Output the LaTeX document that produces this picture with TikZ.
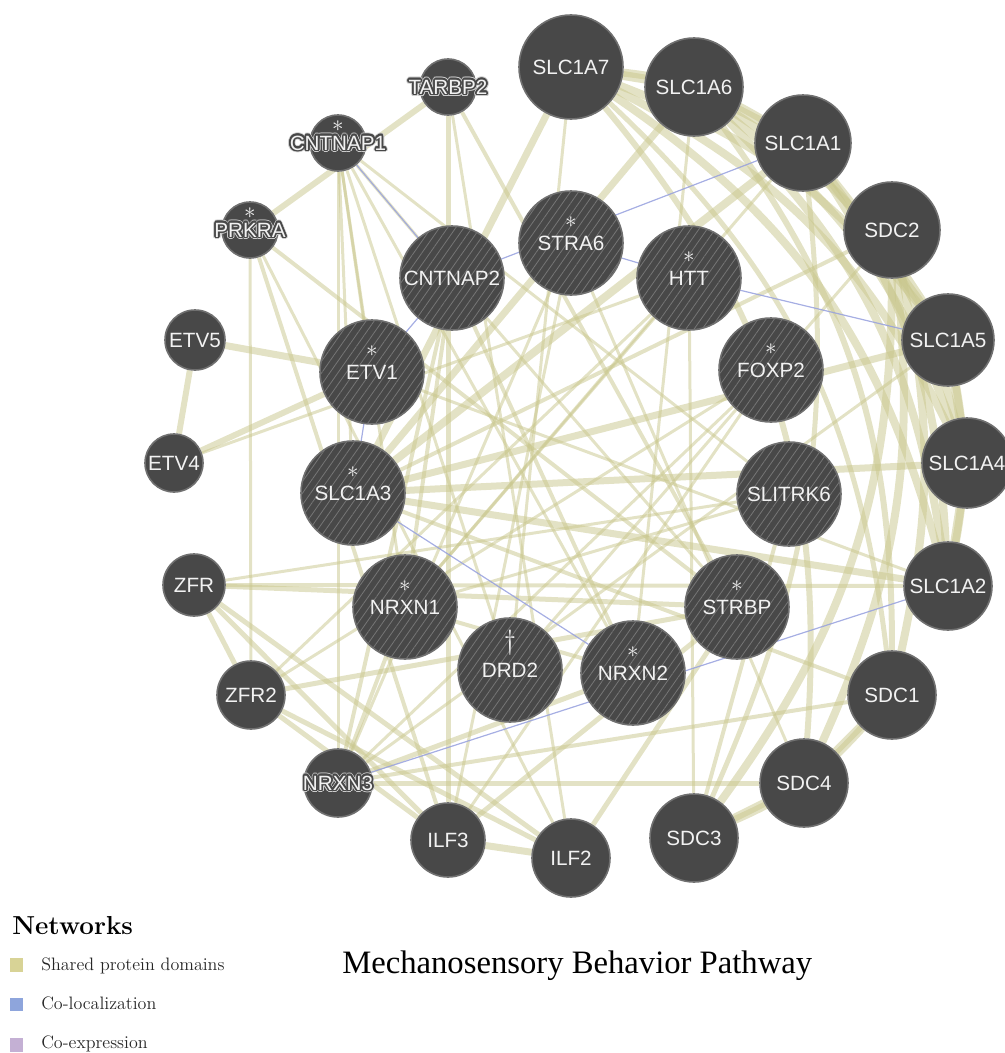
\documentclass[tikz,border=0pt]{standalone}
\usepackage{fontspec}
\usepackage{tikz}
\usetikzlibrary{positioning,calc,backgrounds,patterns.meta}

\newfontfamily\genesans{Liberation Sans}
\newfontfamily\titleserif{Liberation Serif}
\newcommand{\genefont}{\genesans\fontsize{15.5}{18}\selectfont}

\definecolor{nodegray}{RGB}{72,72,72}
\definecolor{ringgray}{RGB}{112,112,112}
\definecolor{hatchgray}{RGB}{118,118,118}
\definecolor{labelwhite}{RGB}{242,242,242}
\definecolor{haloedge}{RGB}{205,205,205}
\definecolor{spdcol}{RGB}{200,198,140}
\definecolor{coloccol}{RGB}{150,160,222}
\definecolor{spdkey}{RGB}{216,211,150}
\definecolor{colockey}{RGB}{142,165,220}
\definecolor{coexpkey}{RGB}{196,176,212}

% white label with a dark outline, for names wider than their circle
\newcommand{\halolabel}[2]{%
  \foreach \ang in {0,22.5,...,337.5}
    \node[genetext, text=haloedge] at ($(#1)+(\ang:2.6)$) {#2};
  \foreach \ang in {0,22.5,...,337.5}
    \node[genetext, text=nodegray] at ($(#1)+(\ang:1.6)$) {#2};
  \node[genetext] (#1-l) at (#1) {#2};}

\begin{document}
\begin{tikzpicture}[x=0.75pt, y=-0.75pt,
    gene/.style={circle, draw=ringgray, line width=1.2pt, fill=nodegray, text=labelwhite, font=\genefont, inner sep=0pt, minimum size=#1*1.5pt},
    query/.style={gene=52, preaction={fill=nodegray}, pattern={Lines[angle=55,distance=5pt,line width=0.6pt]}, pattern color=hatchgray},
    genetext/.style={text=labelwhite, font=\genefont, inner sep=0pt},
    starmark/.style={text=labelwhite, font=\fontsize{18}{18}\selectfont, inner sep=0pt},
    spd/.style={line width=#1*0.75pt, draw=spdcol, draw opacity=0.5},
    coloc/.style={line width=0.9pt, draw=coloccol, draw opacity=0.85},
    legsq/.style={rectangle, minimum size=10pt, inner sep=0pt},
    legtxt/.style={inner sep=0pt, text=black!85, font=\fontsize{13.5}{15}\selectfont}
]
\useasboundingbox (0,0) rectangle (1005,1053);

% outer ring
\node[gene=28] (tarbp2) at (448,87) {};
\node[gene=28] (cntnap1) at (338,143) {};
\node[gene=28] (prkra) at (250,230) {};
\node[gene=30] (etv5) at (195,340) {ETV5};
\node[gene=29] (etv4) at (174,463) {ETV4};
\node[gene=31] (zfr) at (194,585) {ZFR};
\node[gene=34] (zfr2) at (251,695) {ZFR2};
\node[gene=34] (nrxn3) at (338,783) {};
\node[gene=37] (ilf3) at (448,840) {ILF3};
\node[gene=39] (ilf2) at (571,858) {ILF2};
\node[gene=44] (sdc3) at (694,838) {SDC3};
\node[gene=44] (sdc4) at (804,783) {SDC4};
\node[gene=44] (sdc1) at (892,695) {SDC1};
\node[gene=44] (slc1a2) at (948,586) {SLC1A2};
\node[gene=45] (slc1a4) at (967,463) {SLC1A4};
\node[gene=46] (slc1a5) at (948,340) {SLC1A5};
\node[gene=48] (sdc2) at (892,230) {SDC2};
\node[gene=48] (slc1a1) at (803,143) {SLC1A1};
\node[gene=49] (slc1a6) at (694,87) {SLC1A6};
\node[gene=52] (slc1a7) at (571,67) {SLC1A7};

% query genes
\node[query] (cntnap2) at (452,278) {CNTNAP2};
\node[query] (stra6) at (571,243) {STRA6};
\node[query] (htt) at (689,278) {HTT};
\node[query] (foxp2) at (771,370) {FOXP2};
\node[query] (slitrk6) at (789,494) {SLITRK6};
\node[query] (strbp) at (737,607) {STRBP};
\node[query] (nrxn2) at (633,673) {NRXN2};
\node[query] (drd2) at (510,670) {DRD2};
\node[query] (nrxn1) at (405,607) {NRXN1};
\node[query] (slc1a3) at (353,493) {SLC1A3};
\node[query] (etv1) at (372,372) {ETV1};

\halolabel{tarbp2}{TARBP2}
\halolabel{cntnap1}{CNTNAP1}
\halolabel{prkra}{PRKRA}
\halolabel{nrxn3}{NRXN3}

% marks
\node[starmark] (cntnap1-m) at ($(cntnap1)+(0,-17)$) {$\ast$};
\node[starmark] (prkra-m) at ($(prkra)+(0,-17)$) {$\ast$};
\foreach \g in {stra6,htt,foxp2,strbp,nrxn2,nrxn1,slc1a3,etv1}
  \node[starmark] (\g-m) at ($(\g)+(0,-21)$) {$\ast$};
\node[starmark, font=\fontsize{21}{21}\selectfont] (drd2-m) at ($(drd2)+(0,-27)$) {$\dagger$};

\begin{scope}[on background layer]
% shared protein domains
\foreach \a/\b/\w in {slc1a7/slc1a6/9, slc1a6/slc1a1/9, slc1a1/slc1a5/9, slc1a5/slc1a4/9, slc1a4/slc1a2/9,
    slc1a7/slc1a3/7, slc1a6/slc1a3/7, slc1a1/slc1a3/8, slc1a5/slc1a3/7, slc1a4/slc1a3/7, slc1a2/slc1a3/7,
    sdc1/sdc4/8, sdc4/sdc3/8,
    prkra/tarbp2/6, tarbp2/strbp/4, prkra/strbp/4, tarbp2/ilf3/5, prkra/ilf3/4, strbp/ilf3/5,
    ilf2/ilf3/7, ilf2/zfr/5, ilf2/zfr2/5, ilf2/strbp/5, ilf3/zfr/5, ilf3/zfr2/5, zfr/zfr2/5,
    zfr/strbp/5, zfr2/strbp/5, prkra/ilf2/3, tarbp2/ilf2/3, prkra/zfr2/3,
    etv1/etv4/6, etv1/etv5/7, etv4/etv5/6,
    nrxn1/nrxn2/4, nrxn1/nrxn3/4, nrxn2/nrxn3/5, cntnap1/cntnap2/3, cntnap1/nrxn1/3,
    cntnap1/nrxn2/3, cntnap1/nrxn3/3, cntnap2/nrxn1/4, cntnap2/nrxn2/4, cntnap2/nrxn3/4,
    cntnap1/etv1/3, cntnap1/slc1a3/3, cntnap1/drd2/3, cntnap1/slitrk6/3, cntnap2/strbp/3,
    nrxn3/sdc1/4, nrxn3/sdc4/5, nrxn3/slc1a5/3, nrxn3/foxp2/3, zfr/slc1a2/4, zfr/slitrk6/3,
    slc1a3/sdc1/4, slc1a3/sdc2/4, etv1/slc1a2/3, etv4/htt/3, stra6/nrxn3/3, stra6/ilf3/3,
    htt/sdc3/3, htt/nrxn1/3, foxp2/ilf3/3, foxp2/zfr2/3, slitrk6/nrxn1/3, slitrk6/sdc3/4,
    drd2/slc1a7/3, drd2/sdc2/3, nrxn2/slc1a6/3, nrxn1/slc1a1/3, stra6/sdc4/3, htt/zfr2/3}
  \draw[spd=\w] (\a) -- (\b);
\foreach \a/\b/\w/\bd in {slc1a7/slc1a1/8/12, slc1a7/slc1a5/8/15, slc1a7/slc1a4/8/18, slc1a7/slc1a2/8/20,
    slc1a6/slc1a5/8/12, slc1a6/slc1a4/8/15, slc1a6/slc1a2/8/18, slc1a1/slc1a4/8/12, slc1a1/slc1a2/8/15,
    slc1a5/slc1a2/8/10, sdc1/sdc3/8/12, sdc2/sdc1/8/12, sdc2/sdc4/8/15, sdc2/sdc3/8/18,
    slc1a7/sdc4/6/22, slc1a6/sdc1/6/18, slc1a7/sdc1/5/20, slc1a1/sdc3/5/15}
  \draw[spd=\w] (\a) to[bend left=\bd] (\b);
% co-localization
\foreach \a/\b in {cntnap1/cntnap2, etv1/cntnap2, etv1/slc1a3, cntnap2/slc1a1, htt/slc1a5,
    stra6/htt, nrxn3/slc1a2, slc1a3/nrxn2}
  \draw[coloc] (\a) -- (\b);
\end{scope}

% legend
\node[inner sep=0pt, anchor=base west, font=\bfseries\fontsize{19.5}{22}\selectfont] (nethead) at (12,934) {Networks};
\node[legsq, fill=spdkey] (key1) at (16.5,965) {};
\node[legsq, fill=colockey] (key2) at (16.5,1004.5) {};
\node[legsq, fill=coexpkey] (key3) at (16.5,1045) {};
\node[legtxt, anchor=base west] (txt1) at (41,970) {Shared protein domains};
\node[legtxt, anchor=base west] (txt2) at (41,1009) {Co-localization};
\node[legtxt, anchor=base west] (txt3) at (41,1048) {Co-expression};

\node[inner sep=0pt, anchor=base west, font=\titleserif\fontsize{24.5}{28}\selectfont] (title) at (342,973) {Mechanosensory Behavior Pathway};
\end{tikzpicture}
\end{document}
